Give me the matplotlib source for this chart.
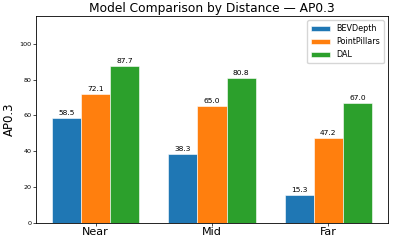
import matplotlib
matplotlib.use("Agg")
import matplotlib.pyplot as plt
import numpy as np

categories = ["Near", "Mid", "Far"]
models = ["BEVDepth", "PointPillars", "DAL"]
bevdepth = [58.5, 38.3, 15.3]
pointpillars = [72.1, 65.0, 47.2]
dal = [87.7, 80.8, 67.0]
colors = ["#1f77b4", "#ff7f0e", "#2ca02c"]

fig, ax = plt.subplots(figsize=(3.93, 2.44), dpi=100)
fig.subplots_adjust(left=0.092, right=0.987, top=0.934, bottom=0.088)

x = np.arange(len(categories))
w = 0.25
for i, (name, vals) in enumerate(zip(models, [bevdepth, pointpillars, dal])):
    bars = ax.bar(x + (i - 1) * w, vals, w, label=name, color=colors[i],
                  edgecolor="white", linewidth=0.4)
    ax.bar_label(bars, labels=[f"{v:.1f}" for v in vals], padding=1.5, fontsize=5.4)

ax.set_xticks(x)
ax.set_xticklabels(categories, fontsize=8)
ax.tick_params(axis="y", labelsize=4.6, length=2.5, width=0.5, pad=1)
ax.tick_params(axis="x", length=2, width=0.5, pad=1.5)
ax.set_ylim(0, 115.5)
ax.set_ylabel("AP0.3", fontsize=8.5, labelpad=2.5)
ax.set_title("Model Comparison by Distance — AP0.3", fontsize=8.8, pad=3)
for s in ax.spines.values():
    s.set_linewidth(0.6)
ax.legend(fontsize=5.8, loc="upper right", handlelength=2.3, borderpad=0.5, labelspacing=0.5)

fig.savefig("out.png", dpi=100)
